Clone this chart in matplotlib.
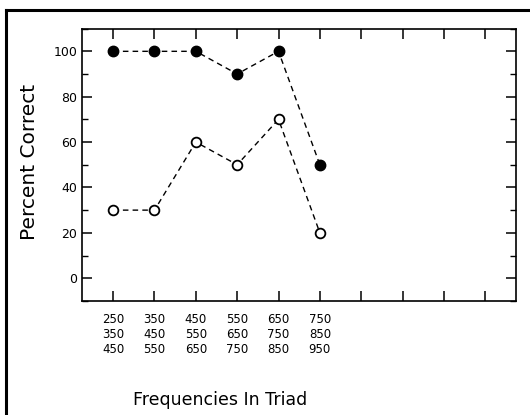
import matplotlib
matplotlib.use("Agg")
import matplotlib.pyplot as plt
from matplotlib.lines import Line2D
from matplotlib.ticker import MultipleLocator

# triad positions and their frequency labels
positions = [1, 2, 3, 4, 5, 6]
triad_labels = [
    "250\n350\n450",
    "350\n450\n550",
    "450\n550\n650",
    "550\n650\n750",
    "650\n750\n850",
    "750\n850\n950",
]
filled_pct = [100, 100, 100, 90, 100, 50]
open_pct = [30, 30, 60, 50, 70, 20]

plt.rcParams["font.family"] = ["DejaVu Sans"]

fig = plt.figure(figsize=(5.3, 4.15), dpi=100, facecolor="white")
ax = fig.add_axes([0.155, 0.275, 0.819, 0.656])

ax.plot(positions, open_pct, color="black", linestyle=(0, (4, 3)), linewidth=1.0,
        marker="o", markersize=7, markerfacecolor="white", markeredgecolor="black",
        markeredgewidth=1.3, zorder=3)
ax.plot(positions, filled_pct, color="black", linestyle=(0, (4, 3)), linewidth=1.0,
        marker="o", markersize=7.5, markerfacecolor="black", markeredgecolor="black",
        zorder=4)

ax.set_xlim(0.25, 10.75)
ax.set_ylim(-10, 110)

ax.set_xticks(range(1, 11))
ax.set_xticklabels(triad_labels + [""] * 4, fontsize=8.5, linespacing=1.2)
ax.set_yticks([0, 20, 40, 60, 80, 100])
ax.yaxis.set_minor_locator(MultipleLocator(10))
ax.tick_params(axis="both", which="major", direction="in", length=7, width=1.1,
               top=True, right=True, labelsize=9)
ax.tick_params(axis="x", labelsize=8.5, pad=9)
ax.tick_params(axis="y", which="minor", direction="in", length=4, width=1.0,
               right=True)
for sp in ax.spines.values():
    sp.set_linewidth(1.2)

fig.text(30 / 530, 1 - 162 / 415, "Percent Correct", fontsize=14.5,
         rotation=90, ha="center", va="center")
fig.text(220 / 530, 1 - 400 / 415, "Frequencies In Triad", fontsize=12.5,
         ha="center", va="center")

# outer frame (top and left edges visible)
fig.add_artist(Line2D([6 / 530, 6 / 530], [0, 1 - 10 / 415], transform=fig.transFigure,
                      color="black", linewidth=2.2))
fig.add_artist(Line2D([6 / 530, 1], [1 - 10 / 415, 1 - 10 / 415], transform=fig.transFigure,
                      color="black", linewidth=2.2))

fig.savefig("out.png", dpi=100)
